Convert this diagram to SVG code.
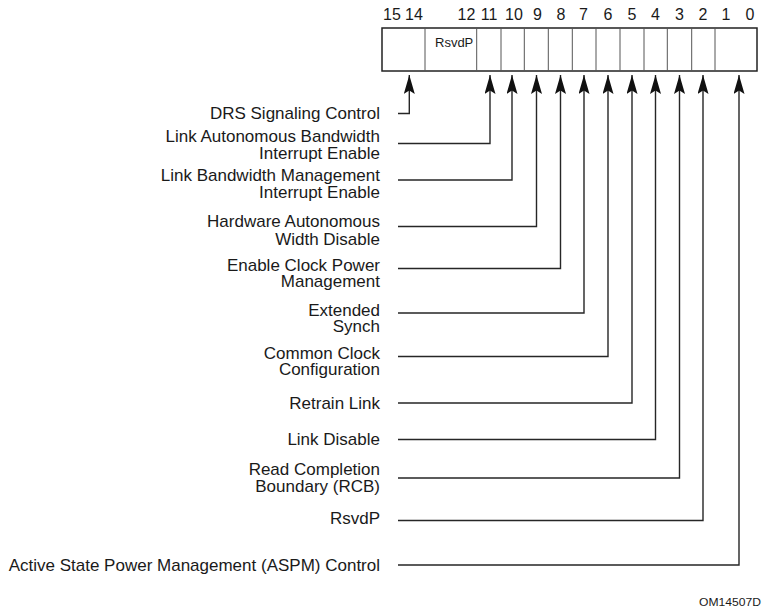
<svg xmlns="http://www.w3.org/2000/svg" width="763" height="613" viewBox="0 0 763 613">
<style>
.lbl{font-family:"Liberation Sans",Arial,sans-serif;font-size:17px;fill:#1a1a1a;text-anchor:end}
.num{font-family:"Liberation Sans",Arial,sans-serif;font-size:16px;fill:#1a1a1a;text-anchor:middle}
.cell{font-family:"Liberation Sans",Arial,sans-serif;font-size:13px;fill:#1a1a1a}
.conn{fill:none;stroke:#262626;stroke-width:1.4;marker-end:url(#ah)}
.div{stroke:#555;stroke-width:1}
</style>
<defs>
<marker id="ah" markerUnits="userSpaceOnUse" markerWidth="19" markerHeight="11" viewBox="0 0 19 11" refX="19" refY="5.5" orient="auto">
<path d="M0,0 L19,5.5 L0,11 L3.5,5.5 Z" fill="#111"/>
</marker>
</defs>
<rect width="763" height="613" fill="#fff"/>
<g id="register">
<g id="bitnumbers">
<text class="num" x="392" y="19.5">15</text>
<text class="num" x="414" y="19.5">14</text>
<text class="num" x="466.5" y="19.5">12</text>
<text class="num" x="489" y="19.5">11</text>
<text class="num" x="514" y="19.5">10</text>
<text class="num" x="537.5" y="19.5">9</text>
<text class="num" x="561" y="19.5">8</text>
<text class="num" x="583.5" y="19.5">7</text>
<text class="num" x="608" y="19.5">6</text>
<text class="num" x="632" y="19.5">5</text>
<text class="num" x="655.5" y="19.5">4</text>
<text class="num" x="679.5" y="19.5">3</text>
<text class="num" x="703" y="19.5">2</text>
<text class="num" x="726" y="19.5">1</text>
<text class="num" x="750" y="19.5">0</text>
</g>
<rect x="382" y="28" width="375" height="43" fill="#fff" stroke="#222" stroke-width="1.5"/>
<line class="div" x1="425" y1="28" x2="425" y2="71"/>
<line class="div" x1="476.7" y1="28" x2="476.7" y2="71"/>
<line class="div" x1="501" y1="28" x2="501" y2="71"/>
<line class="div" x1="524.3" y1="28" x2="524.3" y2="71"/>
<line class="div" x1="548.3" y1="28" x2="548.3" y2="71"/>
<line class="div" x1="572.3" y1="28" x2="572.3" y2="71"/>
<line class="div" x1="596" y1="28" x2="596" y2="71"/>
<line class="div" x1="620" y1="28" x2="620" y2="71"/>
<line class="div" x1="644" y1="28" x2="644" y2="71"/>
<line class="div" x1="667.3" y1="28" x2="667.3" y2="71"/>
<line class="div" x1="691.7" y1="28" x2="691.7" y2="71"/>
<line class="div" x1="715" y1="28" x2="715" y2="71"/>
<text class="cell" x="435" y="47">RsvdP</text>
</g>
<g id="connectors">
<polyline class="conn" points="398,113.5 409.3,113.5 409.3,75"/>
<polyline class="conn" points="398,143.5 490,143.5 490,75"/>
<polyline class="conn" points="398,180 512,180 512,75"/>
<polyline class="conn" points="398,226.5 536.5,226.5 536.5,75"/>
<polyline class="conn" points="398,268.5 560.5,268.5 560.5,75"/>
<polyline class="conn" points="398,313 584,313 584,75"/>
<polyline class="conn" points="398,356.5 608,356.5 608,75"/>
<polyline class="conn" points="398,403 632,403 632,75"/>
<polyline class="conn" points="398,439.5 655.5,439.5 655.5,75"/>
<polyline class="conn" points="398,478 679.5,478 679.5,75"/>
<polyline class="conn" points="398,520.5 703,520.5 703,75"/>
<polyline class="conn" points="398,565 739,565 739,75"/>
</g>
<g id="bit14"><text class="lbl" x="380" y="119">DRS Signaling Control</text></g>
<g id="bit11"><text class="lbl" x="380" y="142">Link Autonomous Bandwidth</text><text class="lbl" x="380" y="159">Interrupt Enable</text></g>
<g id="bit10"><text class="lbl" x="380" y="181">Link Bandwidth Management</text><text class="lbl" x="380" y="198">Interrupt Enable</text></g>
<g id="bit9"><text class="lbl" x="380" y="227">Hardware Autonomous</text><text class="lbl" x="380" y="245">Width Disable</text></g>
<g id="bit8"><text class="lbl" x="380" y="270.5">Enable Clock Power</text><text class="lbl" x="380" y="287">Management</text></g>
<g id="bit7"><text class="lbl" x="380" y="316">Extended</text><text class="lbl" x="380" y="332">Synch</text></g>
<g id="bit6"><text class="lbl" x="380" y="358.5">Common Clock</text><text class="lbl" x="380" y="374.5">Configuration</text></g>
<g id="bit5"><text class="lbl" x="380" y="408.5">Retrain Link</text></g>
<g id="bit4"><text class="lbl" x="380" y="445">Link Disable</text></g>
<g id="bit3"><text class="lbl" x="380" y="475">Read Completion</text><text class="lbl" x="380" y="492">Boundary (RCB)</text></g>
<g id="bit2"><text class="lbl" x="380" y="523.5">RsvdP</text></g>
<g id="bit0"><text class="lbl" x="380" y="570.5">Active State Power Management (ASPM) Control</text></g>
<text x="761" y="606" text-anchor="end" font-family="'Liberation Sans',Arial,sans-serif" font-size="11.5" textLength="62" lengthAdjust="spacingAndGlyphs" fill="#1a1a1a">OM14507D</text>
</svg>
